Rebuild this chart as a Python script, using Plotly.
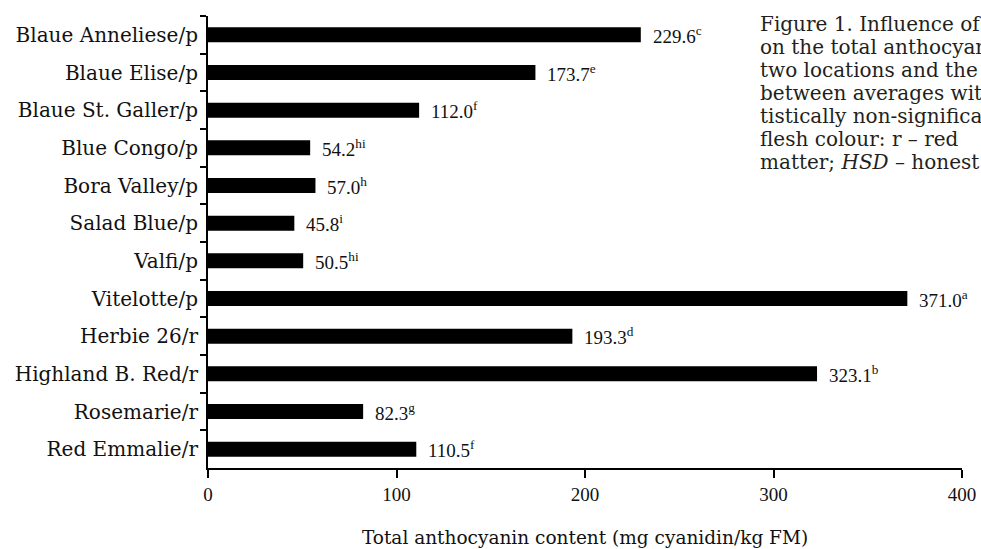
import plotly.graph_objects as go

categories = ["Blaue Anneliese/p", "Blaue Elise/p", "Blaue St. Galler/p", "Blue Congo/p",
              "Bora Valley/p", "Salad Blue/p", "Valfi/p", "Vitelotte/p", "Herbie 26/r",
              "Highland B. Red/r", "Rosemarie/r", "Red Emmalie/r"]
values = [229.6, 173.7, 112.0, 54.2, 57.0, 45.8, 50.5, 371.0, 193.3, 323.1, 82.3, 110.5]
letters = ["c", "e", "f", "hi", "h", "i", "hi", "a", "d", "b", "g", "f"]
x_ticks = [0, 100, 200, 300, 400]

caption_lines = [
    "Figure 1. Influence of",
    "on the total anthocyanin",
    "two locations and the",
    "between averages with",
    "tistically non-significant",
    "flesh colour: r – red",
    "matter; <i>HSD</i> – honest",
]

TXT = "DejaVu Serif"
NUM = "Liberation Serif"

fig = go.Figure(go.Bar(
    x=values, y=categories, orientation="h",
    marker=dict(color="black", line=dict(width=0)),
    width=0.4,
))

for v, c, l in zip(values, categories, letters):
    fig.add_annotation(x=v, y=c, text=f"{v:.1f}<sup>{l}</sup>", showarrow=False,
                       xanchor="left", xshift=10, font=dict(family=NUM, size=19, color="#111"))

for i, line in enumerate(caption_lines):
    fig.add_annotation(xref="paper", yref="paper", x=(758 - 208) / 754,
                       y=1 - (24 + 23 * i - 16) / 452, text=line, showarrow=False,
                       xanchor="left", yanchor="middle", align="left",
                       font=dict(family=TXT, size=20, color="#231f20"))

fig.update_layout(
    width=981, height=549,
    margin=dict(l=208, r=19, t=16, b=81, autoexpand=False),
    plot_bgcolor="white", paper_bgcolor="white",
    showlegend=False,
    font=dict(family=TXT, size=17, color="#111"),
    xaxis=dict(range=[0, 400], tickvals=x_ticks, showline=True, linecolor="black", linewidth=2,
               ticks="outside", ticklen=8, tickwidth=2, tickcolor="black", showgrid=False,
               zeroline=False, automargin=False, tickfont=dict(family=NUM, size=19),
               title=dict(text="Total anthocyanin content (mg cyanidin/kg FM)", standoff=27,
                          font=dict(family=TXT, size=18.5))),
    yaxis=dict(categoryorder="array", categoryarray=categories, range=[11.5, -0.5],
               showline=True, linecolor="black", linewidth=2, ticks="outside", tickson="boundaries",
               ticklen=6, tickwidth=2, tickcolor="black", showgrid=False, zeroline=False,
               automargin=False, tickfont=dict(family=TXT, size=20), ticklabelstandoff=4),
)

fig.write_html("out.html", config={"displayModeBar": False},
               post_script="document.body.style.margin='0';document.body.style.overflow='hidden';")
